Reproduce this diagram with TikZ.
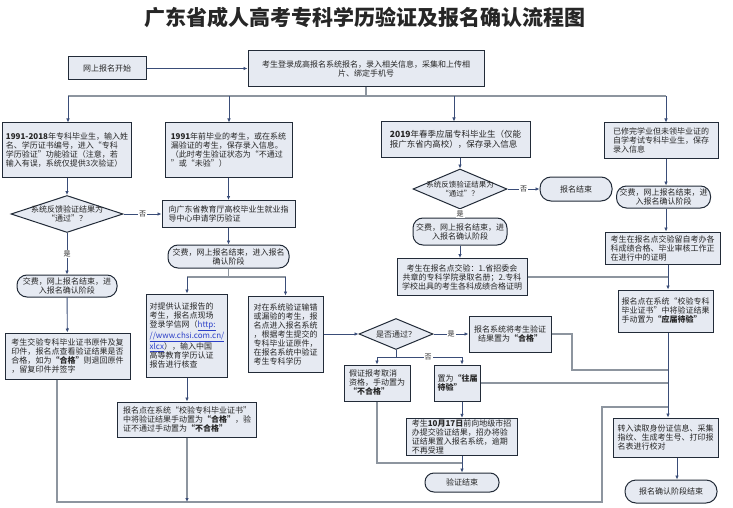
\documentclass[tikz,border=0pt]{standalone}
\usepackage{fontspec}
\setmainfont{Noto Sans CJK SC}
\usetikzlibrary{shapes.geometric,arrows.meta,calc}
\definecolor{boxfill}{HTML}{E6EAF2}
\definecolor{boxdraw}{HTML}{222B38}
\definecolor{arr}{HTML}{3A4D78}
\definecolor{lgray}{HTML}{8D959F}
\definecolor{urlblue}{HTML}{2B3FC8}
\begin{document}
\begin{tikzpicture}[x=1pt,y=-1pt,
  every node/.style={font=\fontsize{8}{9}\selectfont, text=black!85},
  box/.style={draw=boxdraw, line width=1pt, fill=boxfill, inner xsep=3pt, inner ysep=1.5pt, align=left},
  term/.style={draw=boxdraw, line width=1pt, fill=boxfill, inner xsep=3pt, inner ysep=1.5pt, align=center, rounded corners=10pt},
  dia/.style={diamond, draw=boxdraw, line width=1pt, fill=boxfill, inner sep=0pt},
  ar/.style={draw=arr, line width=0.9pt, -{Latex[length=4pt,width=3.6pt]}},
  ln/.style={draw=lgray, line width=1.1pt},
  gar/.style={draw=lgray, line width=1.1pt, -{Latex[length=4pt,width=3.6pt,color=arr]}},
  lab/.style={fill=white, inner sep=1pt, font=\fontsize{7}{8}\selectfont}]
\useasboundingbox[fill=white] (0,0) rectangle (733,508);

\node[font=\fontsize{21}{24}\selectfont\bfseries] (title) at (365,18) {广东省成人高考专科学历验证及报名确认流程图};

% row 1
\node[box, minimum width=78, minimum height=23, align=center] (start) at (107,68.5) {网上报名开始};
\node[box, minimum width=236, minimum height=36, align=center] (reg) at (366,69) {考生登录成高报名系统报名，录入相关信息，采集和上传相\\片、绑定手机号};
\coordinate (brc) at (366,96);
\coordinate (br1) at (68,96);
\coordinate (br2) at (229,96);
\coordinate (br3) at (454,96);
\coordinate (br4) at (666,96);

% column 1
\node[box, minimum width=126, minimum height=54] (c1) at (67,150) {\textbf{1991-2018}年专科毕业生，输入姓\\名、学历证书编号，进入“专科\\学历验证”功能验证（注意，若\\输入有误，系统仅提供3次验证）};
\node[dia, minimum width=112, minimum height=37] (d1) at (67,214) {};
\node[align=center] (d1t) at (d1) {系统反馈验证结果为\\“通过”？};
\node[term, minimum width=100, minimum height=22] (e1) at (67,286) {交费，网上报名结束，进\\入报名确认阶段};
\node[box, minimum width=125, minimum height=46] (f1) at (67.5,356) {考生交验专科毕业证书原件及复\\印件，报名点查看验证结果是否\\合格，如为\textbf{“合格”}则退回原件\\，留复印件并签字};

% column 2
\node[box, minimum width=127, minimum height=54] (c2) at (228.5,150) {\textbf{1991}年前毕业的考生，或在系统\\漏验证的考生，保存录入信息。\\（此时考生验证状态为“不通过\\”或“未验”）};
\node[box, minimum width=133, minimum height=27] (d2) at (228.5,214) {向广东省教育厅高校毕业生就业指\\导中心申请学历验证};
\node[term, minimum width=121, minimum height=23] (e2) at (228.5,256.5) {交费，网上报名结束，进入报名\\确认阶段};
\coordinate (b2) at (228.5,277);
\coordinate (b2l) at (187,277);
\coordinate (b2r) at (285.5,277);
\node[box, minimum width=73, minimum height=83] (f2a) at (187,335.5) {对提供认证报告的\\考生，报名点现场\\登录学信网（\textcolor{urlblue}{\underline{http:}}\\\textcolor{urlblue}{\underline{\textit{//www.chsi.com.cn/}}}\\\textcolor{urlblue}{\underline{xlcx}}），输入中国\\高等教育学历认证\\报告进行核查};
\node[box, minimum width=75, minimum height=76] (f2b) at (285.5,334) {对在系统验证输错\\或漏验的考生，报\\名点进入报名系统\\，根据考生提交的\\专科毕业证原件，\\在报名系统中验证\\考生专科学历};
\node[box, minimum width=139, minimum height=35] (g2) at (187,419.5) {报名点在系统“校验专科毕业证书”\\中将验证结果手动置为\textbf{“合格”}，验\\证不通过手动置为\textbf{“不合格”}};

% column 3
\node[box, minimum width=149, minimum height=35, font=\fontsize{8.5}{10}\selectfont] (c3) at (455.5,139.5) {\textbf{2019}年春季应届专科毕业生（仅能\\报广东省内高校），保存录入信息};
\node[dia, minimum width=94, minimum height=40] (d3b) at (460,189) {};
\node[align=center, font=\fontsize{7.5}{9}\selectfont] (d3bt) at (d3b) {系统反馈验证结果为\\“通过”？};
\node[term, minimum width=72, minimum height=24, rounded corners=11pt] (end1) at (576,189) {报名结束};
\node[term, minimum width=94, minimum height=27] (e3) at (460,231.5) {交费，网上报名结束，进\\入报名确认阶段};
\node[box, minimum width=130, minimum height=37, align=center] (f3) at (462,277) {考生在报名点交验：1.省招委会\\共章的专科学院录取名册；2.专科\\学校出具的考生各科成绩合格证明};

% column 4
\node[box, minimum width=114, minimum height=35] (c4) at (661,140.5) {已修完学业但未领毕业证的\\自学考试专科毕业生，保存\\录入信息};
\node[term, minimum width=93, minimum height=22] (e4) at (663.5,197) {交费，网上报名结束，进\\入报名确认阶段};
\node[box, minimum width=115, minimum height=32] (f4) at (662.5,248) {考生在报名点交验留自考办各\\科成绩合格、毕业审核工作正\\在进行中的证明};
\node[box, minimum width=95, minimum height=42] (g4) at (665.5,311) {报名点在系统“校验专科\\毕业证书”中将验证结果\\手动置为\textbf{“应届待验”}};

% lower middle
\node[dia, minimum width=74, minimum height=31] (d3) at (396,334) {};
\node (d3t) at (d3) {是否通过？};
\node[box, minimum width=82, minimum height=36, align=center] (h) at (510,334) {报名系统将考生验证\\结果置为\textbf{“合格”}};
\coordinate (b3) at (396,357);
\coordinate (b3l) at (377,357);
\coordinate (b3r) at (462,357);
\node[box, minimum width=66, minimum height=36] (i) at (377,383) {假证报考取消\\资格，手动置为\\\textbf{“不合格”}};
\node[box, minimum width=40, minimum height=36] (j) at (457.5,383) {置为\textbf{“往届}\\\textbf{待验”}};
\node[box, minimum width=111, minimum height=36] (k) at (461.5,437) {考生\textbf{10月17日}前向地级市招\\办提交验证结果，招办将验\\证结果置入报名系统，逾期\\不再受理};
\node[term, minimum width=74, minimum height=19, rounded corners=9pt] (end2) at (462,482.5) {验证结束};

% right bottom
\node[box, minimum width=105, minimum height=39] (l) at (665.5,437.5) {转入读取身份证信息、采集\\指纹、生成考生号、打印报\\名表进行校对};
\node[term, minimum width=92, minimum height=23, rounded corners=11pt] (end3) at (671,491.5) {报名确认阶段结束};

\coordinate (bl) at (57,502);
\coordinate (bR) at (602,502);
\coordinate (bu) at (602,407);
\coordinate (lt) at (668,407);
\coordinate (hr) at (572,370);

% connectors
\draw[ar] (start) -- (start -| reg.west);
\draw[ln] (reg.south) -- (brc);
\draw[ln] (br1) -- (br4);
\draw[ar] (br1) -- (br1 |- c1.north);
\draw[ar] (br2) -- (br2 |- c2.north);
\draw[ar] (br3) -- (br3 |- c3.north);
\draw[ar] (br4) -- (br4 |- c4.north);

\draw[ar] (c1) -- (d1);
\draw[ar] (d1) -- node[lab]{是} (e1);
\draw[ar] (d1.east) -- node[lab]{否} (d1.east -| d2.west);
\draw[ar] (e1) -- (f1);
\draw[ln] (f1.south -| bl) -- (bl) -- (bR) -- (bu) -- (lt);

\draw[ar] (c2) -- (d2);
\draw[ar] (d2) -- (e2);
\draw[ln] (e2.south) -- (b2);
\draw[ln] (b2l) -- (b2r);
\draw[ar] (b2l) -- (f2a.north);
\draw[ar] (b2r) -- (f2b.north);
\draw[ar] (f2a) -- (g2);
\draw[gar] (g2.south) -- (g2.south |- bl);
\draw[ar] (f2b.east) -- (f2b.east -| d3.west);

\draw[ar] (d3) -- node[lab]{是} (h);
\draw[ar, -] (d3.south) -- (b3);
\draw[ar, -] (b3l) -- node[lab, pos=0.6]{否} (b3r);
\draw[ar] (b3l) -- (i.north);
\draw[ar] (b3r) -- (b3r |- j.north);
\draw[ar] (j.south -| b3r) -- (k.north -| b3r);
\draw[ar] (k.south -| b3r) -- (end2.north -| b3r);
\draw[ln] (i.south) -- (i.south |- 0,463) -- (b3r |- 0,463);
\draw[ln] (h.east) -| (hr) -- (hr -| lt);
\draw[ln] (j.east) -- (j.east -| lt);

\draw[ar] (c3.south -| d3b.north) -- (d3b.north);
\draw[ar] (d3b.east) -- node[lab]{否} (d3b.east -| end1.west);
\draw[ar] (d3b) -- node[lab]{是} (e3);
\draw[ar] (e3.south) -- (e3.south |- f3.north);
\draw[ln] (f3.east) -- (f3.east -| lt);

\draw[ar] (c4.south -| br4) -- (e4.north -| br4);
\draw[ar] (e4.south -| br4) -- (f4.north -| br4);
\draw[ar] (f4.south -| lt) -- (g4.north -| lt);
\draw[ar] (g4.south -| lt) -- (l.north -| lt);
\draw[ar] ([xshift=11.5pt]l.south) -- ([xshift=11.5pt]l.south |- end3.north);
\end{tikzpicture}
\end{document}
